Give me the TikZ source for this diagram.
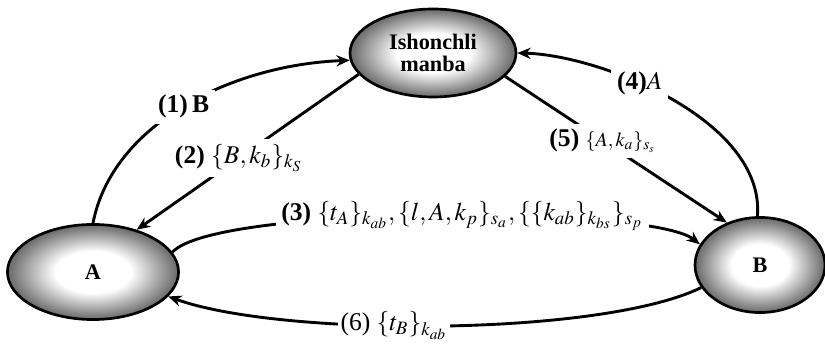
\documentclass[tikz,border=0pt]{standalone}
\usepackage{mathptmx}
\usepackage{fontspec}
\setmainfont{Liberation Serif}
\usetikzlibrary{arrows.meta,shapes.geometric}
\pgfdeclareradialshading{grainy}{\pgfpoint{0bp}{0bp}}{color(0bp)=(white); color(11bp)=(white); color(24bp)=(black!55); color(36bp)=(black!80); color(50bp)=(black!95)}

\begin{document}
\begin{tikzpicture}[x=0.45pt, y=-0.45pt,
    party/.style={ellipse, shading=grainy, draw=black, line width=1.2pt, inner sep=0, font=\bfseries},
    msg/.style={-{Stealth[length=6pt,width=5pt]}, line width=1.3pt},
    lbl/.style={fill=white, inner sep=2.5pt, font=\fontsize{11.5pt}{13pt}\selectfont},
]
    \useasboundingbox (0,0) rectangle (825,348);

    \node[party, minimum width=74.7pt, minimum height=39.6pt, align=center] (src) at (433,53) {Ishonchli\\[-2pt]manba};
    \node[party, minimum width=77pt, minimum height=42.8pt] (a) at (93,272) {A};
    \node[party, minimum width=58.5pt, minimum height=42.8pt] (b) at (760,265) {B};

    \draw[msg] (a.90) .. controls (112,125) and (230,65) .. (src.185)
        node[lbl, pos=0.5] (m1) {\textbf{(1)\,B}};
    \draw[msg] (src.196) -- (a.44)
        node[lbl, pos=0.54] (m2) {\textbf{(2)} $\{B,k_b\}_{k_S}$};
    \draw[msg] (a.14) .. controls (215,205) and (650,205) .. (b.161)
        node[lbl, pos=0.54] (m3) {\textbf{(3)} $\{t_A\}_{k_{ab}},\{l,A,k_p\}_{s_a},\{\{k_{ab}\}_{k_{bs}}\}_{s_p}$};
    \draw[msg] (b.93) .. controls (765,120) and (600,55) .. (src.0)
        node[lbl, pos=0.6] (m4) {\textbf{(4)}$A$};
    \draw[msg] (src.-18) -- (b.128)
        node[lbl, pos=0.44] (m5) {\textbf{(5)} {\small$\{A,k_a\}_{s_s}$}};
    \draw[msg] (b.201) .. controls (600,337) and (280,337) .. (a.-18)
        node[lbl, pos=0.57, inner sep=1pt] (m6) {(6) $\{t_B\}_{k_{ab}}$};
\end{tikzpicture}
\end{document}
